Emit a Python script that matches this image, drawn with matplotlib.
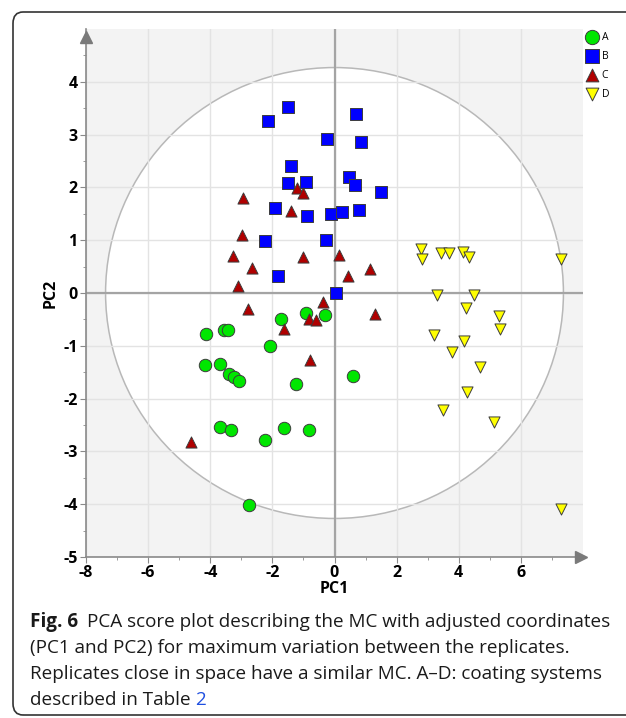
import numpy as np
import matplotlib
matplotlib.use("Agg")
import matplotlib.pyplot as plt
from matplotlib.patches import Ellipse, FancyBboxPatch
from matplotlib.font_manager import FontProperties

plt.rcParams["axes.unicode_minus"] = False
plt.rcParams["font.family"] = "Open Sans"

# PCA scores (PC1, PC2) per coating system
a_pc1 = [-0.91, -0.30, -1.71, -4.13, -3.55, -3.43, -2.07, -4.17, -3.70, -3.39,
         -3.24, -3.07, -1.24, 0.61, -3.70, -3.32, -2.25, -1.62, -0.81, -2.75]
a_pc2 = [-0.38, -0.41, -0.49, -0.77, -0.70, -0.70, -1.01, -1.36, -1.34, -1.53,
         -1.60, -1.67, -1.72, -1.57, -2.54, -2.60, -2.79, -2.56, -2.60, -4.01]

b_pc1 = [-1.50, -2.14, 0.68, -0.23, 0.84, -1.40, 0.47, -1.50, -0.91, 0.65,
         1.51, -1.93, -0.89, -0.10, 0.25, 0.78, -2.24, -0.26, -1.83, 0.05]
b_pc2 = [3.53, 3.25, 3.39, 2.92, 2.86, 2.40, 2.19, 2.08, 2.11, 2.04,
         1.91, 1.61, 1.45, 1.50, 1.54, 1.58, 0.98, 1.01, 0.32, 0.00]

c_pc1 = [-2.96, -1.20, -1.00, -1.40, -2.98, -3.28, -1.02, -2.65, -3.10, 0.13,
         0.44, 1.15, -2.78, -0.38, -0.83, -0.59, -1.64, -0.78, -4.63, 1.30]
c_pc2 = [1.79, 1.98, 1.89, 1.56, 1.09, 0.71, 0.68, 0.48, 0.14, 0.72,
         0.33, 0.46, -0.30, -0.17, -0.49, -0.51, -0.68, -1.27, -2.83, -0.40]

d_pc1 = [2.80, 2.83, 3.44, 3.70, 4.14, 4.32, 7.30, 3.31, 4.49, 4.24,
         5.31, 5.34, 3.19, 4.16, 3.79, 4.69, 4.28, 3.48, 5.15, 7.30]
d_pc2 = [0.84, 0.65, 0.76, 0.76, 0.77, 0.68, 0.65, -0.04, -0.04, -0.28,
         -0.44, -0.68, -0.79, -0.90, -1.11, -1.40, -1.87, -2.22, -2.44, -4.10]

groups = ["A", "B", "C", "D"]
colors = ["#00e600", "#0000ff", "#b00000", "#ffff00"]
markers = ["o", "s", "^", "v"]
sizes = [80, 68, 64, 64]

# Hotelling ellipse semi-axes
ell_w, ell_h = 7.37, 4.27

W, H = 626, 718
fig = plt.figure(figsize=(W / 100, H / 100), dpi=100)

# rounded frame around figure + caption
frame = FancyBboxPatch((13 / W, 3 / H), 1.2, (715 - 12) / H,
                       boxstyle="round,pad=0,rounding_size=0.016",
                       transform=fig.transFigure, fill=False,
                       edgecolor="#333333", linewidth=1.2)
fig.patches.append(frame)

ax = fig.add_axes([86 / W, (H - 557) / H, (583 - 86) / W, (557 - 29) / H])
ax.set_facecolor("#f3f3f3")
ax.set_xlim(-8, 8)
ax.set_ylim(-5, 5)

ax.add_patch(Ellipse((0, 0), 2 * ell_w, 2 * ell_h, facecolor="white",
                     edgecolor="#b8b8b8", linewidth=1.1, zorder=0.2))

ax.set_xticks(np.arange(-8, 7, 2))
ax.set_yticks(np.arange(-5, 5, 1))
ax.set_xticks(np.arange(-7, 8, 2), minor=True)
ax.set_yticks(np.arange(-4.5, 5, 1), minor=True)
ax.grid(True, which="major", color="#e3e3e3", linewidth=1.0)
ax.set_axisbelow(True)
ax.axhline(0, color="#a4a4a4", linewidth=1.6, zorder=1)
ax.axvline(0, color="#a4a4a4", linewidth=1.6, zorder=1)

for s in ["top", "right"]:
    ax.spines[s].set_visible(False)
for s in ["left", "bottom"]:
    ax.spines[s].set_color("#8a8a8a")
    ax.spines[s].set_linewidth(1.2)
ax.tick_params(which="major", direction="out", length=4, color="#8a8a8a",
               pad=2)
ax.tick_params(which="minor", direction="out", length=2.5, color="#8a8a8a")
tick_fp = FontProperties(family="Open Sans", weight="bold", size=11.5)
ax.set_xticklabels([str(v) for v in np.arange(-8, 7, 2)], fontproperties=tick_fp)
ax.set_yticklabels([str(v) for v in np.arange(-5, 5, 1)], fontproperties=tick_fp)

# axis arrows
ax.plot(0, 0.985, marker="^", color="#7a7a7a", markersize=8,
        transform=ax.transAxes, clip_on=False, zorder=5)
ax.plot(0.995, 0, marker=">", color="#7a7a7a", markersize=8,
        transform=ax.transAxes, clip_on=False, zorder=5)

lab_fp = FontProperties(family="Open Sans", weight="bold", size=11.5)
ax.set_xlabel("PC1", fontproperties=lab_fp, labelpad=0)
ax.set_ylabel("PC2", fontproperties=lab_fp, labelpad=3)

xs = [a_pc1, b_pc1, c_pc1, d_pc1]
ys = [a_pc2, b_pc2, c_pc2, d_pc2]
handles = []
for g, x, y, c, m, sz in zip(groups, xs, ys, colors, markers, sizes):
    h = ax.scatter(x, y, s=sz, c=c, marker=m, edgecolors="#3c3c3c",
                   linewidths=0.7, zorder=3, label=g)
    handles.append(h)

fig.legend(handles=handles, loc="upper left",
           bbox_to_anchor=(580 / W, (H - 28) / H), frameon=False,
           prop={"family": "Open Sans", "size": 7.5},
           handletextpad=0.2, labelspacing=0.75, markerscale=1.15,
           borderaxespad=0, handlelength=1.5)

# caption
cap_font = "Open Sans"
cap_size = 13.6
x0 = 30 / W
line_y = [622, 648, 674, 700]
fig.canvas.draw()
r = fig.canvas.get_renderer()
t = fig.text(x0, 1 - line_y[0] / H, "Fig. 6", fontsize=cap_size,
             fontfamily=cap_font, fontweight="bold", va="center",
             color="#1a1a1a")
bb = t.get_window_extent(renderer=r)
fig.text(bb.x1 / W + 9 / W, 1 - line_y[0] / H,
         "PCA score plot describing the MC with adjusted coordinates",
         fontsize=cap_size, fontfamily=cap_font, va="center", color="#1a1a1a")
fig.text(x0, 1 - line_y[1] / H,
         "(PC1 and PC2) for maximum variation between the replicates.",
         fontsize=cap_size, fontfamily=cap_font, va="center", color="#1a1a1a")
fig.text(x0, 1 - line_y[2] / H,
         "Replicates close in space have a similar MC. A\u2013D: coating systems",
         fontsize=cap_size, fontfamily=cap_font, va="center", color="#1a1a1a")
t4 = fig.text(x0, 1 - line_y[3] / H, "described in Table ",
              fontsize=cap_size, fontfamily=cap_font, va="center",
              color="#1a1a1a")
bb4 = t4.get_window_extent(renderer=r)
fig.text(bb4.x1 / W, 1 - line_y[3] / H, "2", fontsize=cap_size,
         fontfamily=cap_font, va="center", color="#1f4fe0")

fig.savefig("out.png", dpi=100)
